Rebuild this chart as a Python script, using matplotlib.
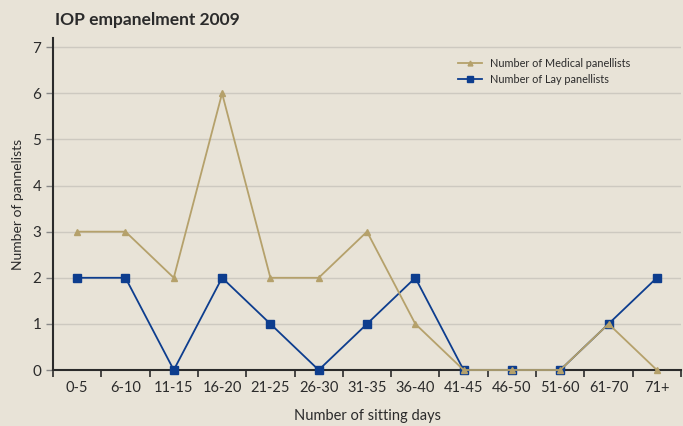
import matplotlib.pyplot as plt
import numpy as np

# data
categories = ["0-5", "6-10", "11-15", "16-20", "21-25", "26-30", "31-35",
              "36-40", "41-45", "46-50", "51-60", "61-70", "71+"]
medical = [3, 3, 2, 6, 2, 2, 3, 1, 0, 0, 0, 1, 0]
lay = [2, 2, 0, 2, 1, 0, 1, 2, 0, 0, 0, 1, 2]

bg = "#e8e3d7"
tan = "#b5a16b"
blue = "#0d3d8e"
txt = "#2b2b2b"

plt.rcParams["font.family"] = ["Lato", "DejaVu Sans"]

fig = plt.figure(figsize=(6.83, 4.26), dpi=100, facecolor=bg)
ax = fig.add_axes([53 / 683, 1 - 370 / 426, 628 / 683, (370 - 38) / 426])
ax.set_facecolor(bg)

x = np.arange(len(categories)) + 0.5
ax.plot(x, lay, color=blue, lw=1.3, marker="s", ms=6, label="Number of Lay panellists",
        zorder=3, clip_on=False)
ax.plot(x, medical, color=tan, lw=1.3, marker="^", ms=5, label="Number of Medical panellists",
        zorder=4, clip_on=False)

ax.set_xlim(0, len(categories))
ax.set_ylim(0, 7.2)
ax.set_yticks(range(8))
ax.grid(axis="y", color="#cdc9c0", lw=1)
ax.set_axisbelow(True)

ax.set_xticks(np.arange(len(categories) + 1))
ax.set_xticklabels([])
ax.set_xticks(x, minor=True)
ax.set_xticklabels(categories, minor=True)
ax.tick_params(axis="x", which="minor", length=0, pad=8, labelsize=10.5, colors=txt)
ax.tick_params(axis="x", which="major", length=5, width=1.2, color=txt)
ax.tick_params(axis="y", length=5, width=1, color="#888", labelsize=11, labelcolor=txt)

for s in ["top", "right"]:
    ax.spines[s].set_visible(False)
for s in ["left", "bottom"]:
    ax.spines[s].set_color(txt)
    ax.spines[s].set_linewidth(1.5)

ax.set_xlabel("Number of sitting days", fontsize=10.5, color=txt, labelpad=10)
ax.set_ylabel("Number of pannelists", fontsize=10, color=txt, labelpad=6)

h, l = ax.get_legend_handles_labels()
ax.legend(h[::-1], l[::-1], loc="upper right", bbox_to_anchor=(0.935, 0.97),
          frameon=False, fontsize=7.8, handlelength=2.2, markerscale=0.7,
          labelcolor=txt)

fig.text(55 / 683, 1 - 20 / 426, "IOP empanelment 2009", fontsize=12.5,
         fontweight="bold", color=txt, va="center", ha="left")

fig.savefig("out.png", dpi=100, facecolor=bg)
